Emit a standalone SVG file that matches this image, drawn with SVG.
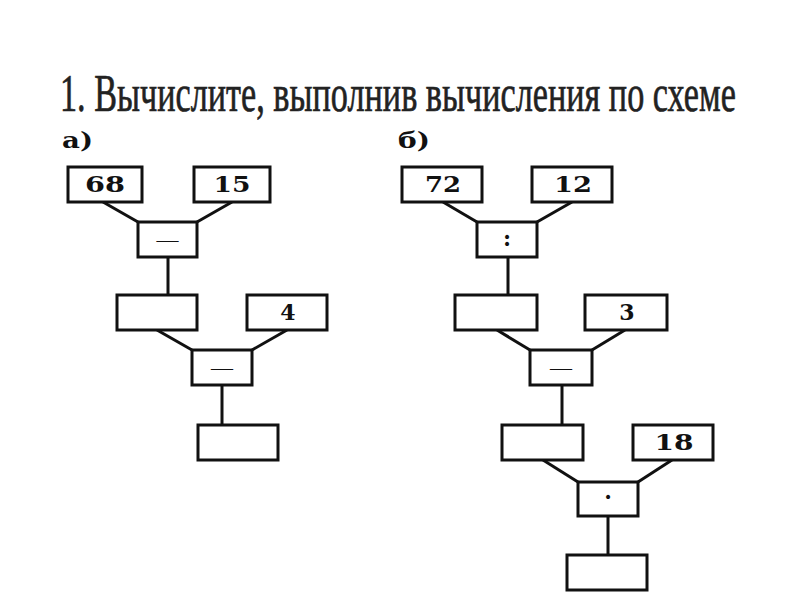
<svg xmlns="http://www.w3.org/2000/svg" width="800" height="600" viewBox="0 0 800 600">
<style>
.box{fill:#fff;stroke:#111;stroke-width:3}
.ln{stroke:#111;stroke-width:3;fill:none}
.num{font-family:"DejaVu Serif",serif;font-weight:bold;font-size:22px;fill:#111;text-anchor:middle}
.op{font-family:"Liberation Serif",serif;font-size:22px;fill:#111;text-anchor:middle}
.opb{font-family:"DejaVu Serif",serif;font-weight:bold;font-size:22px;fill:#111;text-anchor:middle}
.lab{font-family:"DejaVu Serif",serif;font-weight:bold;font-size:23px;fill:#111}
.title{font-family:"Liberation Serif",serif;font-size:53px;fill:#222;stroke:#222;stroke-width:0.7}
</style>
<rect width="800" height="600" fill="#fff"/>
<text class="title" transform="scale(0.66 1)" x="90.9" y="111" textLength="1024" lengthAdjust="spacingAndGlyphs">1. Вычислите, выполнив вычисления по схеме</text>
<text class="lab" x="62" y="148" textLength="31" lengthAdjust="spacingAndGlyphs">а)</text>
<text class="lab" x="398" y="148" textLength="32" lengthAdjust="spacingAndGlyphs">б)</text>
<g id="connectors">
<line class="ln" x1="103" y1="202" x2="138" y2="222"/>
<line class="ln" x1="232" y1="202" x2="197" y2="222"/>
<line class="ln" x1="168" y1="257" x2="168" y2="295"/>
<line class="ln" x1="157" y1="330" x2="192" y2="350"/>
<line class="ln" x1="287" y1="330" x2="252" y2="350"/>
<line class="ln" x1="222" y1="385" x2="222" y2="425"/>
<line class="ln" x1="443" y1="202" x2="477" y2="222"/>
<line class="ln" x1="572" y1="202" x2="537" y2="222"/>
<line class="ln" x1="508" y1="257" x2="508" y2="295"/>
<line class="ln" x1="497" y1="330" x2="530" y2="350"/>
<line class="ln" x1="625" y1="330" x2="592" y2="350"/>
<line class="ln" x1="562" y1="385" x2="562" y2="425"/>
<line class="ln" x1="543" y1="460" x2="578" y2="482"/>
<line class="ln" x1="672" y1="460" x2="638" y2="482"/>
<line class="ln" x1="608" y1="516" x2="608" y2="555"/>
</g>
<g id="n68"><rect class="box" x="68" y="167" width="74" height="35"/><text class="num" x="105" y="192" textLength="40" lengthAdjust="spacingAndGlyphs">68</text></g>
<g id="n15"><rect class="box" x="194" y="167" width="76" height="35"/><text class="num" x="232" y="192" textLength="37" lengthAdjust="spacingAndGlyphs">15</text></g>
<g id="op1"><rect class="box" x="138" y="222" width="59" height="35"/><text class="op" x="167.5" y="247">—</text></g>
<g id="r1"><rect class="box" x="117" y="295" width="80" height="35"/></g>
<g id="n4"><rect class="box" x="247" y="295" width="80" height="35"/><text class="num" x="288" y="320">4</text></g>
<g id="op2"><rect class="box" x="192" y="350" width="60" height="35"/><text class="op" x="222" y="375">—</text></g>
<g id="res1"><rect class="box" x="198" y="425" width="80" height="35"/></g>
<g id="n72"><rect class="box" x="402" y="167" width="80" height="35"/><text class="num" x="443" y="192" textLength="36" lengthAdjust="spacingAndGlyphs">72</text></g>
<g id="n12"><rect class="box" x="532" y="167" width="80" height="35"/><text class="num" x="573" y="192" textLength="38" lengthAdjust="spacingAndGlyphs">12</text></g>
<g id="op3"><rect class="box" x="477" y="222" width="60" height="35"/><text class="opb" x="507" y="246">:</text></g>
<g id="r2"><rect class="box" x="455" y="295" width="82" height="35"/></g>
<g id="n3"><rect class="box" x="585" y="295" width="82" height="35"/><text class="num" x="627" y="320">3</text></g>
<g id="op4"><rect class="box" x="530" y="350" width="62" height="35"/><text class="op" x="561" y="375">—</text></g>
<g id="r3"><rect class="box" x="502" y="425" width="81" height="35"/></g>
<g id="n18"><rect class="box" x="633" y="425" width="80" height="35"/><text class="num" x="674" y="450" textLength="39" lengthAdjust="spacingAndGlyphs">18</text></g>
<g id="op5"><rect class="box" x="578" y="482" width="60" height="34"/><text class="opb" x="608" y="505">·</text></g>
<g id="res2"><rect class="box" x="567" y="555" width="80" height="35"/></g>
</svg>
